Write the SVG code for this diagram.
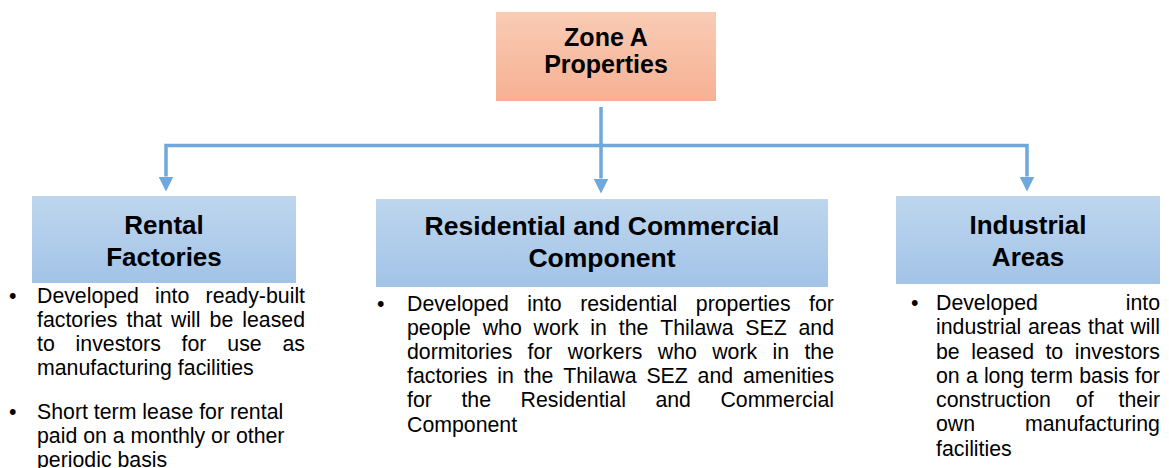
<svg xmlns="http://www.w3.org/2000/svg" width="1169" height="468" viewBox="0 0 1169 468">
<style>
text{font-family:"Liberation Sans",Arial,sans-serif;fill:#000}
.h{font-weight:bold;font-size:26px;text-anchor:middle}
.hm{font-size:26.5px}
.ht{font-weight:bold;font-size:25px;text-anchor:middle}
.b{font-size:21.3px}
.c{fill:none;stroke:#6FA8DC;stroke-width:3.5;stroke-linejoin:miter}
</style>
<defs>
<linearGradient id="gp" x1="0" y1="0" x2="0" y2="1">
<stop offset="0" stop-color="#F9CBB5"/>
<stop offset="1" stop-color="#F6B193"/>
</linearGradient>
<linearGradient id="gb" x1="0" y1="0" x2="0" y2="1">
<stop offset="0" stop-color="#BED6EE"/>
<stop offset="1" stop-color="#A2C3E7"/>
</linearGradient>
<marker id="ar" viewBox="0 0 15 15" refX="0" refY="7.5" markerWidth="15" markerHeight="15" markerUnits="userSpaceOnUse" orient="auto">
<path d="M0,0 L15,7.5 L0,15 z" fill="#6FA8DC"/>
</marker>
</defs>

<g id="connectors">
<path class="c" d="M601,107 V178.5" marker-end="url(#ar)"/>
<path class="c" d="M601,145.5 H166 V176.5" marker-end="url(#ar)"/>
<path class="c" d="M601,145.5 H1027 V176.5" marker-end="url(#ar)"/>
</g>

<g id="zoneA">
<rect x="496" y="12" width="220" height="89" fill="url(#gp)"/>
<text class="ht" x="606" y="45.7">Zone A</text>
<text class="ht" x="606" y="72.7">Properties</text>
</g>

<g id="rental">
<rect x="32" y="196" width="264" height="87" fill="url(#gb)"/>
<text class="h" x="164" y="234">Rental</text>
<text class="h" x="164" y="265.5">Factories</text>
<text class="b" x="9" y="302.5">•</text>
<text class="b" y="302.5"><tspan x="37">Developed</tspan><tspan x="155.05">into</tspan><tspan x="205.6">ready-built</tspan></text>
<text class="b" y="326.7"><tspan x="37">factories</tspan><tspan x="126.5">that</tspan><tspan x="171">will</tspan><tspan x="209.6">be</tspan><tspan x="242.3">leased</tspan></text>
<text class="b" y="350.9"><tspan x="37">to</tspan><tspan x="75.6">investors</tspan><tspan x="181.6">for</tspan><tspan x="227.3">use</tspan><tspan x="282.4">as</tspan></text>
<text class="b" x="37" y="375.1">manufacturing facilities</text>
<text class="b" x="9" y="418.5">•</text>
<text class="b" x="37" y="418.5">Short term lease for rental</text>
<text class="b" x="37" y="442.7">paid on a monthly or other</text>
<text class="b" x="37" y="466.5">periodic basis</text>
</g>

<g id="residential">
<rect x="376" y="199" width="452" height="88" fill="url(#gb)"/>
<text class="h hm" x="602" y="235">Residential and Commercial</text>
<text class="h hm" x="602" y="267">Component</text>
<text class="b" x="377" y="310.5">•</text>
<text class="b" y="310.5"><tspan x="407">Developed</tspan><tspan x="527.35">into</tspan><tspan x="580.2">residential</tspan><tspan x="695.85">properties</tspan><tspan x="809.1">for</tspan></text>
<text class="b" y="334.7"><tspan x="407">people</tspan><tspan x="482.69">who</tspan><tspan x="533.58">work</tspan><tspan x="590.37">in</tspan><tspan x="618.76">the</tspan><tspan x="660.15">Thilawa</tspan><tspan x="745.34">SEZ</tspan><tspan x="798.53">and</tspan></text>
<text class="b" y="358.9"><tspan x="407">dormitories</tspan><tspan x="527.62">for</tspan><tspan x="567.84">workers</tspan><tspan x="657.76">who</tspan><tspan x="712.18">work</tspan><tspan x="772.5">in</tspan><tspan x="804.42">the</tspan></text>
<text class="b" y="383.1"><tspan x="407">factories</tspan><tspan x="497.32">in</tspan><tspan x="523.74">the</tspan><tspan x="563.16">Thilawa</tspan><tspan x="646.38">SEZ</tspan><tspan x="697.6">and</tspan><tspan x="742.92">amenities</tspan></text>
<text class="b" y="407.3"><tspan x="407">for</tspan><tspan x="461.43">the</tspan><tspan x="520.56">Residential</tspan><tspan x="655.39">and</tspan><tspan x="720.42">Commercial</tspan></text>
<text class="b" x="407" y="431.5">Component</text>
</g>

<g id="industrial">
<rect x="896" y="196" width="264" height="88" fill="url(#gb)"/>
<text class="h" x="1028" y="234">Industrial</text>
<text class="h" x="1028" y="266">Areas</text>
<text class="b" x="911" y="310">•</text>
<text class="b" y="310"><tspan x="936">Developed</tspan><tspan x="1125.7">into</tspan></text>
<text class="b" y="334.25"><tspan x="936">industrial</tspan><tspan x="1028">areas</tspan><tspan x="1088.1">that</tspan><tspan x="1130.4">will</tspan></text>
<text class="b" y="358.5"><tspan x="936">be</tspan><tspan x="971.23">leased</tspan><tspan x="1045.46">to</tspan><tspan x="1074.79">investors</tspan></text>
<text class="b" y="382.75"><tspan x="936">on</tspan><tspan x="965.9">a</tspan><tspan x="983.9">long</tspan><tspan x="1030.4">term</tspan><tspan x="1079.2">basis</tspan><tspan x="1135.1">for</tspan></text>
<text class="b" y="407"><tspan x="936">construction</tspan><tspan x="1075.8">of</tspan><tspan x="1118.6">their</tspan></text>
<text class="b" y="431.25"><tspan x="936">own</tspan><tspan x="1025">manufacturing</tspan></text>
<text class="b" x="936" y="455.5">facilities</text>
</g>
</svg>
